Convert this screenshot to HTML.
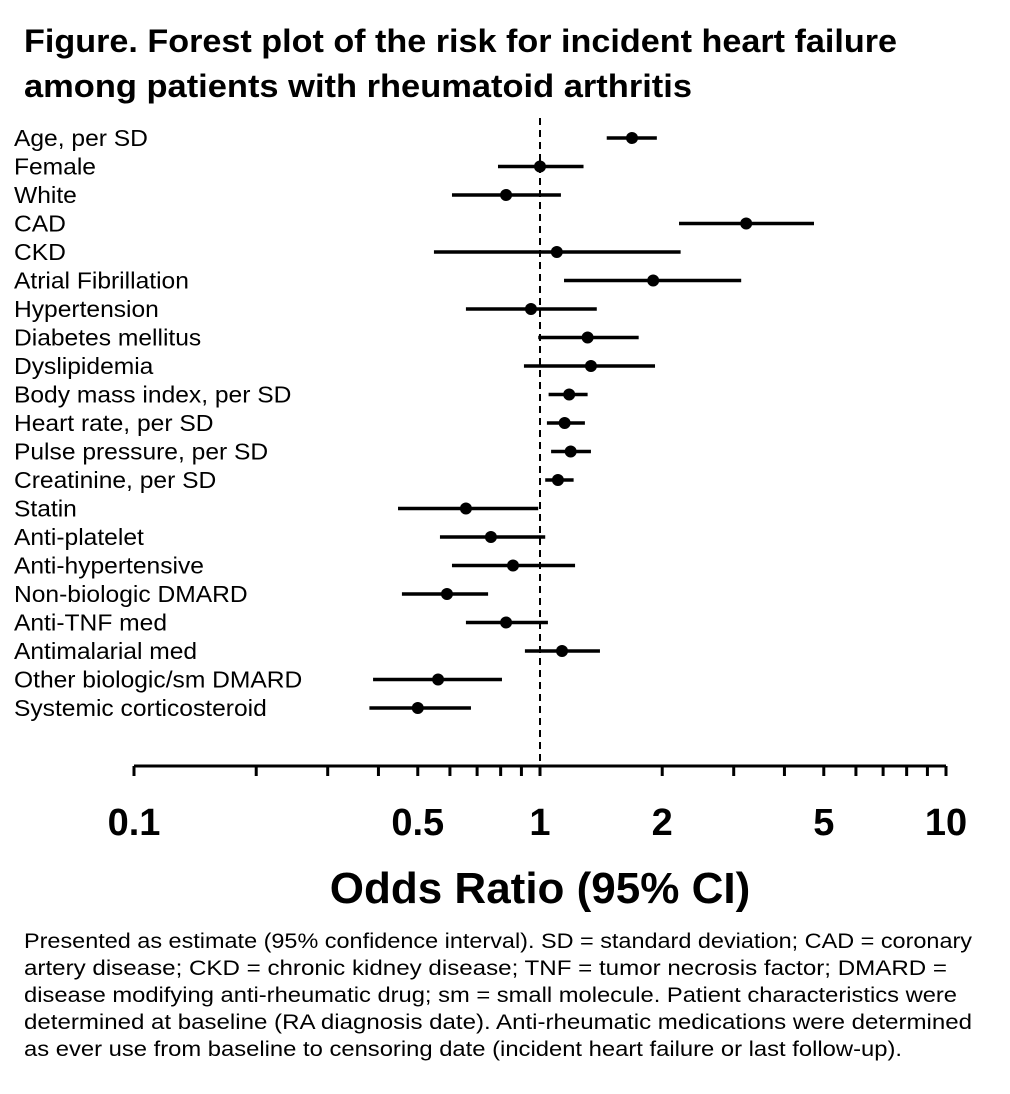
<!DOCTYPE html>
<html><head><meta charset="utf-8"><style>
body{margin:0;background:#fff;width:1010px;height:1094px;overflow:hidden;font-family:"Liberation Sans",sans-serif}
svg{position:absolute;left:0;top:0}
</style></head><body>
<svg id="chart" width="1010" height="1094" xmlns="http://www.w3.org/2000/svg">
<text x="24" y="52" font-size="32" font-weight="bold" font-family="Liberation Sans, sans-serif" textLength="873" lengthAdjust="spacingAndGlyphs">Figure.  Forest plot of the risk for incident heart failure</text>
<text x="24" y="97" font-size="32" font-weight="bold" font-family="Liberation Sans, sans-serif" textLength="668" lengthAdjust="spacingAndGlyphs">among patients with rheumatoid arthritis</text>
<g id="plot"></g>
<text x="540" y="903" text-anchor="middle" font-size="44" font-weight="bold" font-family="Liberation Sans, sans-serif">Odds Ratio (95% CI)</text>
<g font-size="21" font-family="Liberation Sans, sans-serif" lengthAdjust="spacingAndGlyphs">
<text x="24" y="948" textLength="948" lengthAdjust="spacingAndGlyphs">Presented as estimate (95% confidence interval).  SD = standard deviation; CAD = coronary</text>
<text x="24" y="975" textLength="923" lengthAdjust="spacingAndGlyphs">artery disease; CKD = chronic kidney disease; TNF = tumor necrosis factor; DMARD =</text>
<text x="24" y="1002" textLength="933" lengthAdjust="spacingAndGlyphs">disease modifying anti-rheumatic drug; sm = small molecule. Patient characteristics were</text>
<text x="24" y="1029" textLength="948" lengthAdjust="spacingAndGlyphs">determined at baseline (RA diagnosis date).  Anti-rheumatic medications were determined</text>
<text x="24" y="1056" textLength="878" lengthAdjust="spacingAndGlyphs">as ever use from baseline to censoring date (incident heart failure or last follow-up).</text>
</g>
</svg>
<script>
const categories=["Age, per SD","Female","White","CAD","CKD","Atrial Fibrillation","Hypertension","Diabetes mellitus","Dyslipidemia","Body mass index, per SD","Heart rate, per SD","Pulse pressure, per SD","Creatinine, per SD","Statin","Anti-platelet","Anti-hypertensive","Non-biologic DMARD","Anti-TNF med","Antimalarial med","Other biologic/sm DMARD","Systemic corticosteroid"];
const estimates=[1.685,1.0,0.825,3.22,1.10,1.90,0.95,1.31,1.335,1.18,1.15,1.19,1.107,0.657,0.757,0.858,0.59,0.825,1.133,0.561,0.50];
const lower=[1.46,0.788,0.607,2.20,0.548,1.146,0.657,0.99,0.913,1.05,1.04,1.065,1.03,0.447,0.567,0.607,0.457,0.657,0.918,0.388,0.38];
const upper=[1.94,1.28,1.126,4.73,2.22,3.13,1.38,1.75,1.92,1.31,1.29,1.335,1.21,0.99,1.03,1.22,0.745,1.046,1.405,0.806,0.676];
const tickLabels=["0.1","0.5","1","2","5","10"];
const tickValues=[0.1,0.5,1,2,5,10];
const NS="http://www.w3.org/2000/svg";
const g=document.getElementById('plot');
const X0=134,X1=946;
function xs(v){return X0+(Math.log10(v)+1)/2*(X1-X0);}
function ys(i){return 138+i*28.5;}
function mk(t,a){const e=document.createElementNS(NS,t);for(const k in a)e.setAttribute(k,a[k]);g.appendChild(e);return e;}
const axisY=766;
let ref=mk('line',{x1:xs(1),x2:xs(1),y1:118,y2:axisY,stroke:'#000','stroke-width':2,'stroke-dasharray':'7,5'});


let ax=mk('line',{x1:X0,x2:X1,y1:axisY,y2:axisY,stroke:'#000','stroke-width':3});


for(let d=0.1;d<10;d*=10){for(let m=1;m<=10;m++){const v=d*m;if(v>10.001)break;
let t=mk('line',{x1:xs(v),x2:xs(v),y1:axisY,y2:axisY+10,stroke:'#000','stroke-width':3});

}}
tickLabels.forEach((s,i)=>{let t=mk('text',{x:xs(tickValues[i]),y:835,'text-anchor':'middle','font-size':38,'font-weight':'bold','font-family':'Liberation Sans, sans-serif'});t.textContent=s;

});
categories.forEach((c,i)=>{const y=ys(i);
let l=mk('text',{x:14,y:y+8,'font-size':23,'font-family':'Liberation Sans, sans-serif'});l.textContent=c;


l.setAttribute('transform','translate(14,0) scale(1.07,1) translate(-14,0)');
let ci=mk('line',{x1:xs(lower[i]),x2:xs(upper[i]),y1:y,y2:y,stroke:'#000','stroke-width':3.5});


let p=mk('circle',{cx:xs(estimates[i]),cy:y,r:6,fill:'#000'});

});
</script>
</body></html>
